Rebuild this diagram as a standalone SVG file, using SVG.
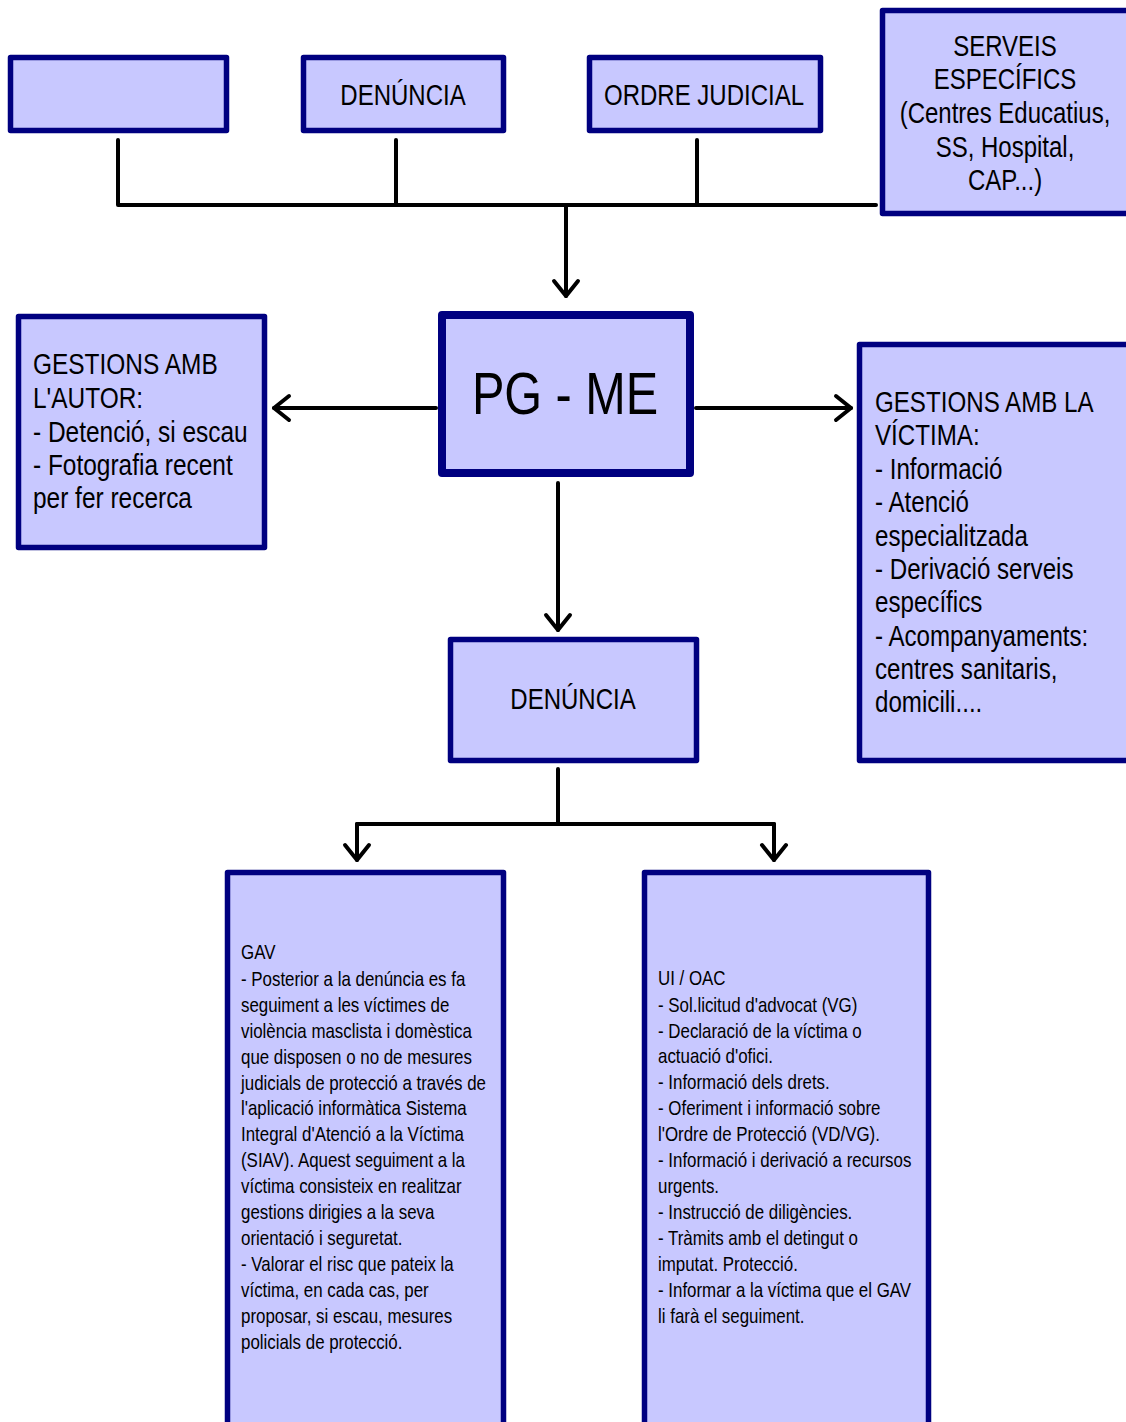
<svg xmlns="http://www.w3.org/2000/svg" width="1126" height="1422" viewBox="0 0 1126 1422">
<defs>
<style>
.box{fill:#C8C8FF;stroke:#000080;stroke-width:5.5;stroke-linejoin:round}
.boxb{fill:#C8C8FF;stroke:#000080;stroke-width:8;stroke-linejoin:round}
.t{font-family:"Liberation Sans",Arial,sans-serif;fill:#000}
.l{font-size:30px}
.s{font-size:20px}
.big{font-size:60px}
.c{text-anchor:middle}
.ln{fill:none;stroke:#000;stroke-width:4;stroke-linecap:round;stroke-linejoin:round}
</style>
<marker id="ah" viewBox="-20 -20 40 40" refX="0" refY="0" markerWidth="40" markerHeight="40" markerUnits="userSpaceOnUse" orient="auto">
<path d="M-15,-12 L0,0 L-15,12" fill="none" stroke="#000" stroke-width="4" stroke-linecap="round" stroke-linejoin="round"/>
</marker>
</defs>
<rect width="1126" height="1422" fill="#fff"/>

<g id="connectors">
<path class="ln" d="M118,140 V205 M396,140 V205 M697,140 V205 M118,205 H876"/>
<path class="ln" d="M566,205 V296" marker-end="url(#ah)"/>
<path class="ln" d="M436,408 H274" marker-end="url(#ah)"/>
<path class="ln" d="M696,408 H851" marker-end="url(#ah)"/>
<path class="ln" d="M558,483 V630" marker-end="url(#ah)"/>
<path class="ln" d="M558,769 V824 M357,824 H774"/>
<path class="ln" d="M357,824 V860" marker-end="url(#ah)"/>
<path class="ln" d="M774,824 V860" marker-end="url(#ah)"/>
</g>

<g id="node-empty">
<rect class="box" x="10.5" y="57.5" width="216" height="73"/>
</g>

<g id="node-denuncia-top">
<rect class="box" x="303.5" y="57.5" width="200" height="73"/>
<text class="t l c" transform="translate(403,105) scale(0.8,1)">DENÚNCIA</text>
</g>

<g id="node-ordre">
<rect class="box" x="589.5" y="57.5" width="231" height="73"/>
<text class="t l c" transform="translate(704,105) scale(0.8,1)">ORDRE JUDICIAL</text>
</g>

<g id="node-serveis">
<rect class="box" x="882.5" y="10.5" width="250" height="203"/>
<text class="t l c" transform="translate(1005,56) scale(0.8,1)">SERVEIS</text>
<text class="t l c" transform="translate(1005,89) scale(0.8,1)">ESPECÍFICS</text>
<text class="t l c" transform="translate(1005,123) scale(0.8,1)">(Centres Educatius,</text>
<text class="t l c" transform="translate(1005,157) scale(0.8,1)">SS, Hospital,</text>
<text class="t l c" transform="translate(1005,190) scale(0.8,1)">CAP...)</text>
</g>

<g id="node-pgme">
<rect class="boxb" x="442" y="315" width="248" height="158"/>
<text class="t big c" transform="translate(565,414) scale(0.81,1)">PG - ME</text>
</g>

<g id="node-autor">
<rect class="box" x="18.5" y="316.5" width="246" height="231"/>
<text class="t l" transform="translate(33,374) scale(0.815,1)">GESTIONS AMB</text>
<text class="t l" transform="translate(33,408) scale(0.815,1)">L'AUTOR:</text>
<text class="t l" transform="translate(33,442) scale(0.815,1)">- Detenció, si escau</text>
<text class="t l" transform="translate(33,475) scale(0.815,1)">- Fotografia recent</text>
<text class="t l" transform="translate(33,508) scale(0.815,1)">per fer recerca</text>
</g>

<g id="node-victima">
<rect class="box" x="859.5" y="344.5" width="272" height="416"/>
<text class="t l" transform="translate(875,412) scale(0.805,1)">GESTIONS AMB LA</text>
<text class="t l" transform="translate(875,445) scale(0.805,1)">VÍCTIMA:</text>
<text class="t l" transform="translate(875,479) scale(0.805,1)">- Informació</text>
<text class="t l" transform="translate(875,512) scale(0.805,1)">- Atenció</text>
<text class="t l" transform="translate(875,546) scale(0.805,1)">especialitzada</text>
<text class="t l" transform="translate(875,579) scale(0.805,1)">- Derivació serveis</text>
<text class="t l" transform="translate(875,612) scale(0.805,1)">específics</text>
<text class="t l" transform="translate(875,646) scale(0.805,1)">- Acompanyaments:</text>
<text class="t l" transform="translate(875,679) scale(0.805,1)">centres sanitaris,</text>
<text class="t l" transform="translate(875,712) scale(0.805,1)">domicili....</text>
</g>

<g id="node-denuncia-mid">
<rect class="box" x="450.5" y="639.5" width="246" height="121"/>
<text class="t l c" transform="translate(573,709) scale(0.8,1)">DENÚNCIA</text>
</g>

<g id="node-gav">
<rect class="box" x="227.5" y="872.5" width="276" height="560"/>
<g class="t s">
<text transform="translate(241,959) scale(0.845,1)">GAV</text>
<text transform="translate(241,986) scale(0.845,1)">- Posterior a la denúncia es fa</text>
<text transform="translate(241,1012) scale(0.845,1)">seguiment a les víctimes de</text>
<text transform="translate(241,1038) scale(0.845,1)">violència masclista i domèstica</text>
<text transform="translate(241,1064) scale(0.845,1)">que disposen o no de mesures</text>
<text transform="translate(241,1090) scale(0.845,1)">judicials de protecció a través de</text>
<text transform="translate(241,1115) scale(0.845,1)">l'aplicació informàtica Sistema</text>
<text transform="translate(241,1141) scale(0.845,1)">Integral d'Atenció a la Víctima</text>
<text transform="translate(241,1167) scale(0.845,1)">(SIAV). Aquest seguiment a la</text>
<text transform="translate(241,1193) scale(0.845,1)">víctima consisteix en realitzar</text>
<text transform="translate(241,1219) scale(0.845,1)">gestions dirigies a la seva</text>
<text transform="translate(241,1245) scale(0.845,1)">orientació i seguretat.</text>
<text transform="translate(241,1271) scale(0.845,1)">- Valorar el risc que pateix la</text>
<text transform="translate(241,1297) scale(0.845,1)">víctima, en cada cas, per</text>
<text transform="translate(241,1323) scale(0.845,1)">proposar, si escau, mesures</text>
<text transform="translate(241,1349) scale(0.845,1)">policials de protecció.</text>
</g>
</g>

<g id="node-uioac">
<rect class="box" x="644.5" y="872.5" width="284" height="560"/>
<g class="t s">
<text transform="translate(658,985) scale(0.845,1)">UI / OAC</text>
<text transform="translate(658,1012) scale(0.845,1)">- Sol.licitud d'advocat (VG)</text>
<text transform="translate(658,1038) scale(0.845,1)">- Declaració de la víctima o</text>
<text transform="translate(658,1063) scale(0.845,1)">actuació d'ofici.</text>
<text transform="translate(658,1089) scale(0.845,1)">- Informació dels drets.</text>
<text transform="translate(658,1115) scale(0.845,1)">- Oferiment i informació sobre</text>
<text transform="translate(658,1141) scale(0.845,1)">l'Ordre de Protecció (VD/VG).</text>
<text transform="translate(658,1167) scale(0.845,1)">- Informació i derivació a recursos</text>
<text transform="translate(658,1193) scale(0.845,1)">urgents.</text>
<text transform="translate(658,1219) scale(0.845,1)">- Instrucció de diligències.</text>
<text transform="translate(658,1245) scale(0.845,1)">- Tràmits amb el detingut o</text>
<text transform="translate(658,1271) scale(0.845,1)">imputat. Protecció.</text>
<text transform="translate(658,1297) scale(0.845,1)">- Informar a la víctima que el GAV</text>
<text transform="translate(658,1323) scale(0.845,1)">li farà el seguiment.</text>
</g>
</g>
</svg>
